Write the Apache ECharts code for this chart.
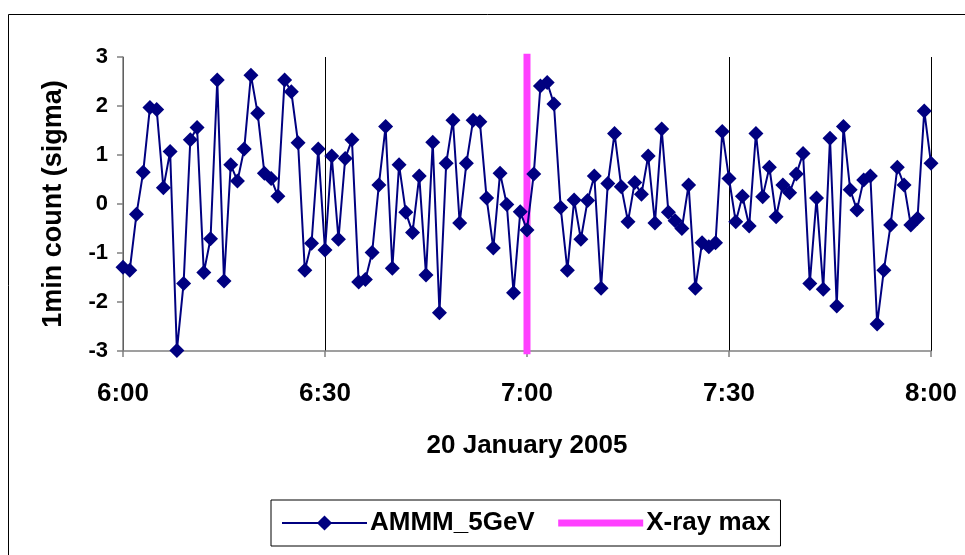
<!DOCTYPE html>
<html>
<head>
<meta charset="utf-8">
<script src="https://cdn.jsdelivr.net/npm/echarts@6/dist/echarts.min.js"></script>
<style>
html,body{margin:0;padding:0;background:#fff;}
#chart{width:965px;height:555px;}
</style>
</head>
<body>
<div id="chart"></div>
<script>
// minutes after 6:00 (one point per minute)
var seriesName = 'AMMM_5GeV';
var markerName = 'X-ray max';
var sigmaValues = [
  -1.29, -1.35, -0.21, 0.65, 1.97, 1.93, 0.33, 1.07, -2.99, -1.62,
  1.31, 1.56, -1.40, -0.71, 2.53, -1.57, 0.80, 0.47, 1.12, 2.63,
  1.85, 0.63, 0.52, 0.16, 2.53, 2.29, 1.25, -1.35, -0.80, 1.12,
  -0.94, 0.98, -0.72, 0.93, 1.31, -1.59, -1.54, -0.99, 0.39, 1.58,
  -1.31, 0.80, -0.17, -0.58, 0.57, -1.45, 1.26, -2.22, 0.83, 1.71,
  -0.39, 0.83, 1.71, 1.68, 0.12, -0.90, 0.63, -0.01, -1.81, -0.16,
  -0.53, 0.61, 2.41, 2.48, 2.04, -0.07, -1.35, 0.08, -0.72, 0.07,
  0.57, -1.72, 0.42, 1.44, 0.35, -0.36, 0.44, 0.20, 0.98, -0.39,
  1.53, -0.17, -0.34, -0.50, 0.39, -1.72, -0.79, -0.87, -0.79, 1.48,
  0.52, -0.36, 0.16, -0.45, 1.44, 0.15, 0.75, -0.26, 0.39, 0.23,
  0.61, 1.03, -1.62, 0.12, -1.74, 1.34, -2.08, 1.58, 0.29, -0.12,
  0.49, 0.57, -2.45, -1.35, -0.43, 0.75, 0.39, -0.43, -0.29, 1.90,
  0.83
];
var xrayMinute = 60;          // 7:00
var xrayRange = [-3, 3];
var xTickLabels = ['6:00', '6:30', '7:00', '7:30', '8:00'];
var xTickStep = 30;
var yTicks = [-3, -2, -1, 0, 1, 2, 3];
var xAxisTitle = '20 January 2005';
var yAxisTitle = '1min count (sigma)';

var FONT = '"Liberation Sans", Arial, sans-serif';
var NAVY = '#000080';
var MAGENTA = '#FF40FF';
var mainData = sigmaValues.map(function (v, i) { return [i, v]; });
var xrayData = xrayRange.map(function (v) { return [xrayMinute, v]; });

var chart = echarts.init(document.getElementById('chart'), null, {renderer: 'canvas'});
chart.setOption({
  animation: false,
  backgroundColor: '#ffffff',
  textStyle: {fontFamily: FONT},
  graphic: [{
    type: 'rect',
    shape: {x: 8.5, y: 14.5, width: 990, height: 600},
    style: {fill: 'none', stroke: '#000', lineWidth: 1},
    silent: true, z: -10
  }],
  grid: {left: 123, right: 34, top: 57, bottom: 204, containLabel: false},
  xAxis: {
    type: 'value',
    min: 0, max: (xTickLabels.length - 1) * xTickStep, interval: xTickStep,
    axisLine: {show: true, onZero: false, lineStyle: {color: '#808080', width: 1.5}},
    axisTick: {show: true, length: 6, lineStyle: {color: '#808080', width: 1.5}},
    splitLine: {show: true, lineStyle: {color: '#000', width: 1}},
    axisLabel: {
      margin: 30, color: '#000', fontSize: 26, fontWeight: 'bold', fontFamily: FONT,
      formatter: function (v) { return xTickLabels[Math.round(v / xTickStep)] || ''; }
    },
    name: xAxisTitle, nameLocation: 'middle', nameGap: 82,
    nameTextStyle: {color: '#000', fontSize: 26, fontWeight: 'bold', fontFamily: FONT}
  },
  yAxis: {
    type: 'value',
    min: yTicks[0], max: yTicks[yTicks.length - 1], interval: 1,
    axisLine: {show: true, lineStyle: {color: '#808080', width: 1.5}},
    axisTick: {show: true, length: 6, lineStyle: {color: '#808080', width: 1.5}},
    splitLine: {show: false},
    axisLabel: {margin: 15, color: '#000', fontSize: 22, fontWeight: 'bold', fontFamily: FONT},
    name: yAxisTitle, nameLocation: 'middle', nameGap: 56, nameRotate: 90,
    nameTextStyle: {color: '#000', fontSize: 27, fontWeight: 'bold', fontFamily: FONT}
  },
  legend: {
    left: 271, top: 500,
    padding: [10, 10, 10, 10],
    itemGap: 20, itemWidth: 85, itemHeight: 19,
    borderColor: '#000', borderWidth: 1,
    textStyle: {color: '#000', fontSize: 26, fontWeight: 'bold', fontFamily: FONT, padding: [0, 0, 0, -2]},
    data: [
      {name: seriesName, lineStyle: {width: 2, color: NAVY}, itemStyle: {color: NAVY}},
      {name: markerName, lineStyle: {width: 7, color: MAGENTA, cap: 'butt'}, itemStyle: {opacity: 0}}
    ]
  },
  series: [{
    name: markerName,
    type: 'line',
    data: xrayData,
    symbol: 'none',
    lineStyle: {color: MAGENTA, width: 7, cap: 'square'},
    itemStyle: {color: MAGENTA},
    z: 1
  }, {
    name: seriesName,
    type: 'line',
    data: mainData,
    symbol: 'diamond',
    symbolSize: 15,
    lineStyle: {color: NAVY, width: 2},
    itemStyle: {color: NAVY},
    z: 3
  }]
});
</script>
</body>
</html>
